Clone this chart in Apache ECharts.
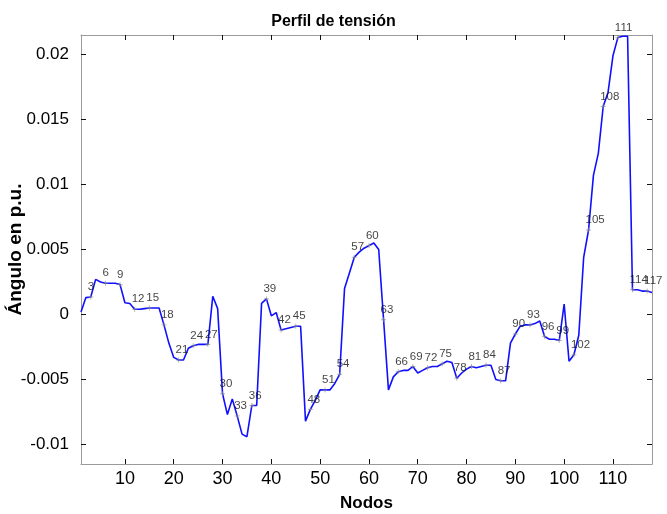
<!DOCTYPE html>
<html>
<head>
<meta charset="utf-8">
<script src="https://cdn.jsdelivr.net/npm/echarts@6/dist/echarts.min.js"></script>
<style>html,body{margin:0;padding:0;background:#fff;}#c{width:667px;height:514px;}</style>
</head>
<body>
<div id="c"></div>
<script>
const nodes = Array.from({length: 118}, (_, i) => i + 1);
const angles = [
  0.0002, 0.0013, 0.00135, 0.0027, 0.0025, 0.0024, 0.0024, 0.0024, 0.0023, 0.0009,
  0.00085, 0.0004, 0.0004, 0.00045, 0.0005, 0.0005, 0.0005, -0.0008, -0.0022, -0.0033,
  -0.0035, -0.0035, -0.0026, -0.0024, -0.0023, -0.0023, -0.0023, 0.0014, 0.00045, -0.0061,
  -0.0077, -0.0065, -0.0078, -0.0092, -0.0094, -0.0070, -0.0070, 0.00085, 0.0012, -0.0001,
  0.00015, -0.0012, -0.0011, -0.0010, -0.0009, -0.0009, -0.0082, -0.0073, -0.0066, -0.0058,
  -0.0058, -0.0058, -0.0053, -0.0046, 0.0020, 0.0032, 0.0044, 0.0048, 0.0051, 0.0053,
  0.0055, 0.0050, -0.0004, -0.0058, -0.0048, -0.0044, -0.0043, -0.0043, -0.0040, -0.0045,
  -0.0043, -0.0041, -0.0040, -0.0040, -0.0038, -0.0036, -0.0037, -0.0049, -0.0045, -0.0042,
  -0.0040, -0.0041, -0.0040, -0.0039, -0.0039, -0.0050, -0.0051, -0.0051, -0.0022, -0.0015,
  -0.0009, -0.0008, -0.0008, -0.0007, -0.0005, -0.0017, -0.0019, -0.0019, -0.0020, 0.0008,
  -0.0036, -0.0031, -0.0016, 0.0044, 0.0065, 0.0107, 0.0124, 0.0160, 0.0171, 0.0199,
  0.0213, 0.0214, 0.0214, 0.0019, 0.0019, 0.0018, 0.0018, 0.0017
];
const xTicks = [10, 20, 30, 40, 50, 60, 70, 80, 90, 100, 110];
const yTicks = [-0.01, -0.005, 0, 0.005, 0.01, 0.015, 0.02];
const labelStep = 3;

const lineData = nodes.map((n, i) => [n, angles[i]]);
const labelData = lineData.filter(d => d[0] % labelStep === 0);

const font = "'Liberation Sans', Arial, Helvetica, sans-serif";
const fmtY = v => String(Number(v.toFixed(4)));

const chart = echarts.init(document.getElementById('c'), null, {renderer: 'canvas'});
const axisLineStyle = {lineStyle: {color: '#9a9a9a', width: 1}};
const tickStyle = {lineStyle: {color: '#111', width: 1}};
chart.setOption({
  animation: false,
  backgroundColor: '#fff',
  title: {
    text: 'Perfil de tensión', left: 'center', top: 9,
    textStyle: {fontFamily: font, fontSize: 16, fontWeight: 'bold', color: '#000'}
  },
  grid: {left: 81, right: 15, top: 35, bottom: 50, containLabel: false, outerBoundsMode: 'none'},
  xAxis: [{
    type: 'value', min: 1, max: 118, position: 'bottom',
    name: 'Nodos', nameLocation: 'middle', nameGap: 31, nameMoveOverlap: false,
    nameTextStyle: {fontFamily: font, fontSize: 17, fontWeight: 'bold', color: '#000'},
    axisLine: {onZero: false, ...axisLineStyle},
    axisTick: {show: true, inside: true, length: 5, customValues: xTicks, ...tickStyle},
    axisLabel: {customValues: xTicks, fontFamily: font, fontSize: 18, color: '#000', margin: 6},
    splitLine: {show: false}
  }, {
    type: 'value', min: 1, max: 118, position: 'top',
    axisLine: {show: true, onZero: false, ...axisLineStyle},
    axisTick: {show: true, inside: true, length: 5, customValues: xTicks, ...tickStyle},
    axisLabel: {show: false},
    splitLine: {show: false}
  }],
  yAxis: [{
    type: 'value', min: -0.0115, max: 0.0215, position: 'left',
    name: 'Ángulo en p.u.', nameLocation: 'middle', nameGap: 56, nameMoveOverlap: false,
    nameTextStyle: {fontFamily: font, fontSize: 19, fontWeight: 'bold', color: '#000'},
    axisLine: {show: true, onZero: false, ...axisLineStyle},
    axisTick: {show: true, inside: true, length: 5, customValues: yTicks, ...tickStyle},
    axisLabel: {customValues: yTicks, formatter: fmtY, fontFamily: font, fontSize: 17, color: '#000', margin: 12},
    splitLine: {show: false}
  }, {
    type: 'value', min: -0.0115, max: 0.0215, position: 'right',
    axisLine: {show: true, onZero: false, ...axisLineStyle},
    axisTick: {show: true, inside: true, length: 5, customValues: yTicks, ...tickStyle},
    axisLabel: {show: false},
    splitLine: {show: false}
  }],
  series: [{
    type: 'line', data: lineData, xAxisIndex: 0, yAxisIndex: 0,
    showSymbol: false, symbol: 'none',
    lineStyle: {color: '#1010ff', width: 1.6},
    clip: true, z: 2
  }, {
    type: 'scatter', data: labelData, xAxisIndex: 0, yAxisIndex: 0,
    symbol: 'path://M0,5L10,5M5,0L5,10', symbolSize: 5,
    itemStyle: {color: 'none', borderColor: '#888', borderWidth: 0.8},
    label: {
      show: true, position: [2, 1], align: 'left', verticalAlign: 'bottom',
      formatter: p => String(p.value[0]),
      fontFamily: font, fontSize: 11.5, color: '#111'
    },
    z: 3
  }]
});
</script>
</body>
</html>
